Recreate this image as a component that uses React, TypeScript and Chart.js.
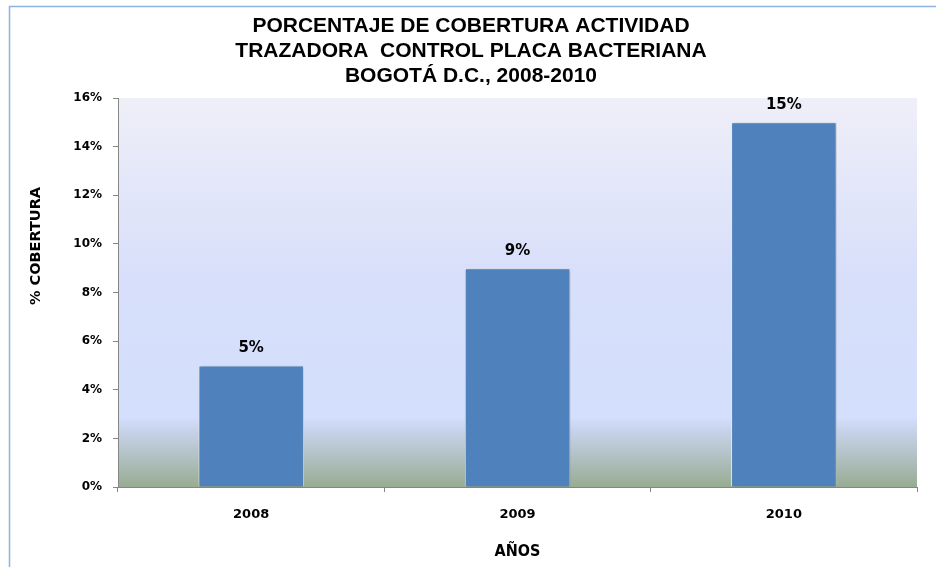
import React, { useEffect, useRef } from "react";
import { Chart, registerables } from "chart.js";

Chart.register(...registerables);

const titleLines = [
  "PORCENTAJE DE COBERTURA ACTIVIDAD",
  "TRAZADORA  CONTROL PLACA BACTERIANA",
  "BOGOTÁ D.C., 2008-2010",
];
const years = ["2008", "2009", "2010"];
const coverage = [5, 9, 15];
const yTicks = [0, 2, 4, 6, 8, 10, 12, 14, 16];
const xTitle = "AÑOS";
const yTitle = "% COBERTURA";

const bgPlugin = {
  id: "bgPlugin",
  beforeDraw(chart: any) {
    const { ctx, chartArea } = chart;
    ctx.save();
    ctx.fillStyle = "#ffffff";
    ctx.fillRect(0, 0, chart.width, chart.height);
    const { left, top, right, bottom } = chartArea;
    const g = ctx.createLinearGradient(0, top, 0, bottom);
    g.addColorStop(0, "rgb(239,239,248)");
    g.addColorStop(0.45, "rgb(216,223,250)");
    g.addColorStop(0.82, "rgb(211,223,252)");
    g.addColorStop(0.86, "rgb(198,209,232)");
    g.addColorStop(0.92, "rgb(178,194,196)");
    g.addColorStop(1, "rgb(152,172,146)");
    ctx.fillStyle = g;
    ctx.fillRect(left, top, right - left, bottom - top);
    ctx.strokeStyle = "#8db3e2";
    ctx.lineWidth = 1.5;
    ctx.strokeRect(9.5, 6.5, chart.width + 20, chart.height + 20);

    // Title
    ctx.fillStyle = "#000000";
    ctx.font = "bold 21px 'Liberation Sans', Arial, sans-serif";
    ctx.textAlign = "center";
    ctx.textBaseline = "middle";
    titleLines.forEach((line, i) => {
      ctx.fillText(line, 471, 26 + i * 25);
    });

    // Y axis title
    ctx.save();
    ctx.translate(36, 246);
    ctx.rotate(-Math.PI / 2);
    ctx.font = "bold 14.5px 'DejaVu Sans'";
    ctx.fillText(yTitle, 0, 0);
    ctx.restore();
    ctx.restore();
  },
  beforeDatasetsDraw(chart: any) {
    const ctx = chart.ctx;
    ctx.save();
    ctx.shadowColor = "rgba(0,0,0,0.28)";
    ctx.shadowBlur = 3;
    ctx.shadowOffsetX = 1.5;
    ctx.shadowOffsetY = 1;
  },
  afterDatasetsDraw(chart: any) {
    const ctx = chart.ctx;
    ctx.restore();
    ctx.save();
    const meta = chart.getDatasetMeta(0);
    ctx.fillStyle = "#000000";
    ctx.font = "bold 15px 'DejaVu Sans'";
    ctx.textAlign = "center";
    ctx.textBaseline = "middle";
    meta.data.forEach((bar: any, i: number) => {
      ctx.fillText(coverage[i] + "%", bar.x, bar.y - 17);
    });
    ctx.restore();
  },
};

export default function App() {
  const ref = useRef<HTMLCanvasElement>(null);
  useEffect(() => {
    if (!ref.current) return;
    const chart = new Chart(ref.current, {
      type: "bar",
      data: {
        labels: years,
        datasets: [
          {
            data: coverage,
            backgroundColor: "#4f81bd",
            borderColor: "#e8ecf6",
            borderWidth: 1,
            barPercentage: 0.4,
            categoryPercentage: 0.99,
          },
        ],
      },
      options: {
        animation: false,
        responsive: true,
        maintainAspectRatio: false,
        layout: { padding: { left: 0, right: 19, top: 98, bottom: 0 } },
        plugins: {
          legend: { display: false },
          tooltip: { enabled: false },
          title: { display: false },
        },
        scales: {
          x: {
            grid: { display: true, drawOnChartArea: false, tickLength: 5, color: "#868686" },
            border: { color: "#868686", width: 1 },
            ticks: { color: "#000000", padding: 15, font: { family: "'DejaVu Sans'", size: 13, weight: "bold" } },
            title: {
              display: true,
              text: xTitle,
              color: "#000000",
              font: { family: "'DejaVu Sans Condensed', 'DejaVu Sans'", size: 16, weight: "bold" },
              padding: { top: 0, bottom: 6 },
            },
            afterFit(scale: any) {
              scale.height = 80;
            },
          },
          y: {
            min: 0,
            max: 16,
            afterBuildTicks(scale: any) {
              scale.ticks = yTicks.map((v) => ({ value: v }));
            },
            grid: { display: true, drawOnChartArea: false, tickLength: 5, color: "#868686" },
            border: { color: "#868686", width: 1 },
            ticks: {
              color: "#000000",
              padding: 11,
              font: { family: "'DejaVu Sans'", size: 12, weight: "bold" },
              callback: (v: any) => v + "%",
            },
            title: { display: false },
            afterFit(scale: any) {
              scale.width = 118;
            },
          },
        },
      },
      plugins: [bgPlugin],
    });
    return () => chart.destroy();
  }, []);
  return (
    <div style={{ position: "absolute", left: 0, top: 0, width: 936, height: 567 }}>
      <canvas ref={ref} />
    </div>
  );
}
